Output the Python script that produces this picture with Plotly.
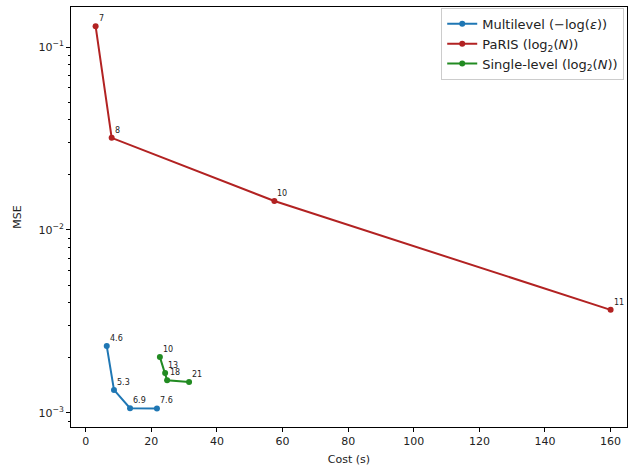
import numpy as np
import plotly.graph_objects as go

ml_cost = [6.4, 8.6, 13.5, 21.7]
ml_mse = [0.00232, 0.001337, 0.001062, 0.001058]
ml_lab = ["4.6", "5.3", "6.9", "7.6"]

pa_cost = [3.0, 7.9, 57.5, 160.0]
pa_mse = [0.130, 0.0319, 0.0144, 0.00366]
pa_lab = ["7", "8", "10", "11"]

sl_cost = [22.6, 24.2, 24.8, 31.5]
sl_mse = [0.00202, 0.001655, 0.00151, 0.001475]
sl_lab = ["10", "13", "18", "21"]

series = [
    ("Multilevel (−log(<i>ε</i>))", ml_cost, ml_mse, ml_lab, "#1f77b4"),
    ("PaRIS (log<sub>2</sub>(<i>N</i>))", pa_cost, pa_mse, pa_lab, "#b22222"),
    ("Single-level (log<sub>2</sub>(<i>N</i>))", sl_cost, sl_mse, sl_lab, "#228b22"),
]

fig = go.Figure()
ann = []
for name, xs, ys, labs, col in series:
    fig.add_trace(go.Scatter(x=xs, y=ys, mode="lines+markers", name=name,
                             line=dict(color=col, width=2), marker=dict(color=col, size=6)))
    for x, y, t in zip(xs, ys, labs):
        ann.append(dict(x=x, y=np.log10(y), xref="x", yref="y", text=t, showarrow=False,
                        xanchor="left", yanchor="bottom", xshift=1, yshift=1,
                        font=dict(size=8, color="#222")))

minor_vals = [m * 10.0 ** e for e in (-4, -3, -2, -1) for m in range(2, 10)]

fig.update_layout(
    width=628, height=472,
    margin=dict(l=71, r=1, t=7, b=45),
    plot_bgcolor="white", paper_bgcolor="white",
    font=dict(family="DejaVu Sans", size=11, color="#222"),
    annotations=ann,
    showlegend=True,
    legend=dict(x=0.995, y=0.998, xanchor="right", yanchor="top",
                bordercolor="#cccccc", borderwidth=1, bgcolor="white",
                font=dict(size=13), itemwidth=30),
    xaxis=dict(range=[-4.5, 165], tickvals=list(range(0, 161, 20)),
               showgrid=False, zeroline=False, showline=True, linecolor="black",
               mirror=True, ticks="outside", ticklen=4, tickcolor="black",
               title=dict(text="Cost (s)", font=dict(size=11), standoff=8)),
    yaxis=dict(type="log", range=[np.log10(8.38e-4), np.log10(0.1655)],
               tickvals=[1e-3, 1e-2, 1e-1],
               ticktext=["10<sup>−3</sup>", "10<sup>−2</sup>", "10<sup>−1</sup>"],
               showgrid=False, zeroline=False, showline=True, linecolor="black",
               mirror=True, ticks="outside", ticklen=4, tickcolor="black",
               minor=dict(tickvals=minor_vals, ticks="outside", ticklen=2, tickcolor="black"),
               title=dict(text="MSE", font=dict(size=11), standoff=14)),
)

fig.write_html("out.html", config={"displayModeBar": False},
               post_script="document.body.style.margin='0';")
